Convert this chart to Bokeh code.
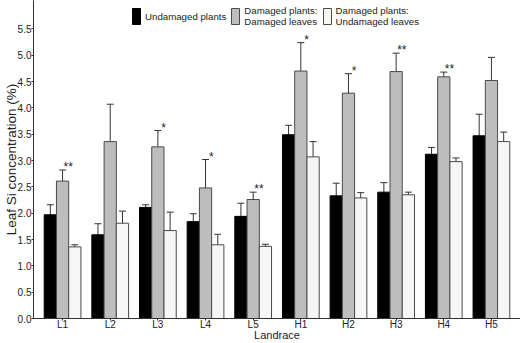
from bokeh.plotting import figure
from bokeh.models import (Range1d, FixedTicker, Whisker, TeeHead, ColumnDataSource,
                          Legend, LegendItem)
from bokeh.embed import file_html
from bokeh.resources import INLINE
from bokeh.core.properties import value

categories = ["L1", "L2", "L3", "L4", "L5", "H1", "H2", "H3", "H4", "H5"]
undamaged = [1.97, 1.59, 2.11, 1.84, 1.94, 3.49, 2.33, 2.40, 3.12, 3.47]
undamaged_se = [0.19, 0.21, 0.05, 0.15, 0.25, 0.18, 0.24, 0.18, 0.13, 0.41]
damaged_dl = [2.61, 3.36, 3.26, 2.48, 2.26, 4.70, 4.28, 4.69, 4.59, 4.52]
damaged_dl_se = [0.21, 0.71, 0.31, 0.54, 0.14, 0.54, 0.37, 0.35, 0.09, 0.44]
damaged_ul = [1.36, 1.81, 1.67, 1.40, 1.37, 3.07, 2.29, 2.35, 2.98, 3.36]
damaged_ul_se = [0.04, 0.23, 0.35, 0.20, 0.04, 0.29, 0.10, 0.05, 0.07, 0.18]
signif = ["**", "", "*", "*", "**", "*", "*", "**", "**", ""]
y_ticks = [0, 0.5, 1.0, 1.5, 2.0, 2.5, 3.0, 3.5, 4.0, 4.5, 5.0, 5.5]

FONT = "Liberation Sans"
TXT = "#222222"
BW = 0.257

p = figure(width=520, height=343, x_range=Range1d(-0.61, 9.61), y_range=Range1d(0, 6.04),
           output_backend="svg", toolbar_location=None,
           min_border_left=0, min_border_right=0, min_border_top=0, min_border_bottom=0)
p.outline_line_color = None
p.grid.visible = False
p.background_fill_color = "white"

idx = list(range(len(categories)))
series = [
    (undamaged, undamaged_se, -BW, "#000000", "#000000", "Undamaged plants"),
    (damaged_dl, damaged_dl_se, 0.0, "#bdbdbd", "#4a4a4a", "Damaged plants:\nDamaged leaves"),
    (damaged_ul, damaged_ul_se, BW, "#f6f6f6", "#4a4a4a", "Damaged plants:\nUndamaged leaves"),
]
items = []
for vals, se, off, fill, line, label in series:
    src = ColumnDataSource(dict(
        x=[i + off for i in idx], top=vals,
        lo=[v - s for v, s in zip(vals, se)], hi=[v + s for v, s in zip(vals, se)]))
    r = p.vbar(x="x", top="top", width=BW, bottom=0, source=src,
               fill_color=fill, line_color=line, line_width=1)
    w = Whisker(base="x", lower="lo", upper="hi", source=src, line_color="#333333", line_width=1,
                upper_head=TeeHead(size=7, line_color="#333333", line_width=1),
                lower_head=TeeHead(size=7, line_color="#333333", line_width=1))
    p.add_layout(w)
    items.append(LegendItem(label=label, renderers=[r]))

# significance stars above the damaged-leaves bars
star_src = ColumnDataSource(dict(
    x=[i + 0.12 for i in idx],
    y=[v + s for v, s in zip(damaged_dl, damaged_dl_se)],
    t=signif))
p.text(x="x", y="y", text="t", source=star_src, text_font=value(FONT), text_font_size="12px",
       text_align="center", text_baseline="alphabetic", text_color=TXT, y_offset=-3)

legend = Legend(items=items, orientation="horizontal", location=(98, 291),
                padding=0, margin=0, spacing=4, glyph_width=10, glyph_height=20,
                label_height=20, label_standoff=4, label_text_font=FONT,
                label_text_font_size="9.7px", label_text_color=TXT,
                label_text_line_height=1.07,
                background_fill_alpha=0, border_line_color=None)
p.add_layout(legend)

p.xaxis.ticker = FixedTicker(ticks=idx)
p.xaxis.major_label_overrides = {i: c for i, c in zip(idx, categories)}
p.yaxis.ticker = FixedTicker(ticks=y_ticks)
p.yaxis.major_label_overrides = {t: f"{t:.1f}" for t in y_ticks}
p.xaxis.axis_label = "Landrace"
p.yaxis.axis_label = "Leaf Si concentration (%)"
for ax in (p.xaxis[0], p.yaxis[0]):
    ax.axis_line_color = "#333333"
    ax.major_tick_line_color = "#333333"
    ax.major_tick_out = 2
    ax.major_tick_in = 0
    ax.minor_tick_line_color = None
    ax.major_label_text_font = FONT
    ax.major_label_text_font_size = "10px"
    ax.major_label_text_color = TXT
    ax.axis_label_text_font = FONT
    ax.axis_label_text_font_style = "normal"
    ax.axis_label_text_color = TXT
p.xaxis.axis_label_text_font_size = "11px"
p.yaxis.axis_label_text_font_size = "13.5px"
p.xaxis.major_label_standoff = -2
p.xaxis.axis_label_standoff = -4
p.yaxis.major_label_standoff = 0
p.yaxis.axis_label_standoff = -4

open("out.html", "w").write(file_html(p, INLINE))
